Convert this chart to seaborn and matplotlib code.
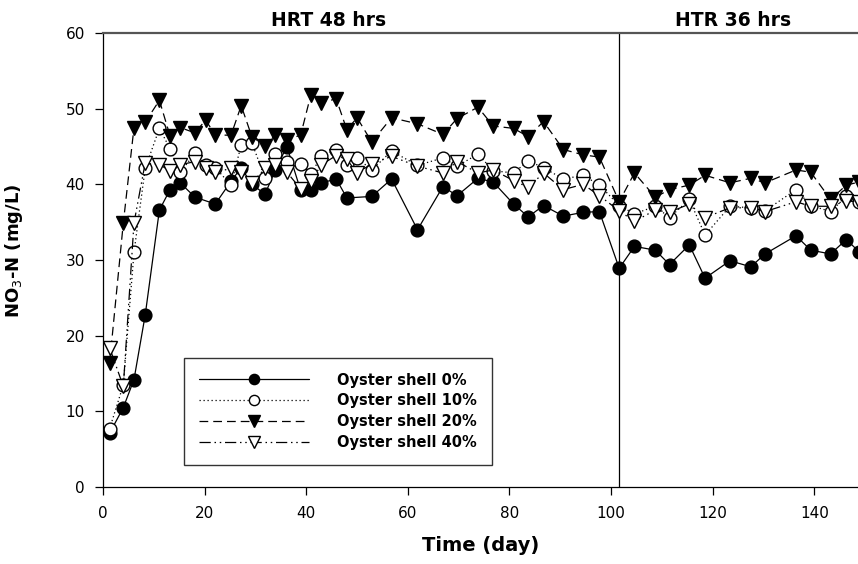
import numpy as np
import pandas as pd
import matplotlib
matplotlib.use("Agg")
import matplotlib.pyplot as plt
import seaborn as sns

# ---- data ----
days = [1.3, 4.0, 6.1, 8.3, 11.1, 13.2, 15.2, 18.1, 20.2, 22.1, 25.2, 27.2, 29.3, 31.9,
        33.9, 36.2, 38.9, 40.9, 43.0, 45.9, 48.0, 50.0, 52.9, 56.8, 61.9, 66.9, 69.7,
        73.8, 76.8, 80.8, 83.7, 86.7, 90.6, 94.5, 97.7, 101.6, 104.6, 108.7, 111.5,
        115.4, 118.5, 123.4, 127.5, 130.3, 136.4, 139.3, 143.2, 146.3, 148.8]

shell_0 = [7.1, 10.5, 14.2, 22.7, 36.6, 39.3, 40.2, 38.3, np.nan, 37.4, 40.4, 42.2, 40.0, 38.7,
           41.9, 45.0, 39.2, 39.2, 40.2, 40.7, 38.2, np.nan, 38.4, 40.7, 34.0, 39.7, 38.5,
           40.8, 40.3, 37.4, 35.7, 37.2, 35.8, 36.3, 36.4, 28.9, 31.8, 31.3, 29.4,
           32.0, 27.6, 29.9, 29.1, 30.8, 33.2, 31.3, 30.8, 32.7, 31.1]

shell_10 = [7.7, 13.5, 31.0, 42.1, 47.4, 44.7, 41.6, 44.1, 42.6, 42.2, 39.9, 45.2, 45.5, 40.8,
            44.0, 42.9, 42.7, 41.4, 43.7, 44.6, 42.6, 43.5, 41.9, 44.4, 42.5, 43.5, 42.4,
            44.0, 41.8, 41.5, 43.1, 42.2, 40.7, 41.2, 39.9, 37.2, 36.1, 37.1, 35.6,
            38.0, 33.3, 37.1, 36.9, 36.5, 39.3, 37.2, 36.4, 38.4, 37.7]

shell_20 = [16.4, 34.9, 47.5, 48.2, 51.1, 46.4, 47.5, 46.8, 48.5, 46.5, 46.5, 50.4, 46.3, 45.1,
            46.5, 45.9, 46.5, 51.8, 50.8, 51.3, 47.2, 48.8, 45.6, 48.8, 48.0, 46.6, 48.7,
            50.2, 47.7, 47.4, 46.3, 48.3, 44.6, 43.9, 43.6, 37.7, 41.5, 38.3, 39.3,
            39.9, 41.2, 40.2, 40.8, 40.2, 41.9, 41.6, 38.0, 39.9, 40.3]

shell_40 = [18.4, 13.3, 34.9, 42.8, 42.6, 41.8, 42.6, 43.0, 42.2, 41.6, 42.1, 41.6, 40.2, 42.1,
            42.5, 41.6, 39.4, 40.4, 42.6, 43.8, 43.3, 41.5, 42.7, 43.7, 42.4, 41.5, 43.0,
            41.5, 41.9, 40.5, 39.6, 41.5, 39.3, 40.0, 38.5, 36.5, 35.1, 36.6, 36.3,
            37.4, 35.6, 36.9, 36.9, 36.4, 37.7, 37.1, 37.1, 37.8, 37.7]

series_labels = ["Oyster shell 0%", "Oyster shell 10%", "Oyster shell 20%", "Oyster shell 40%"]
phase_labels = ["HRT 48 hrs", "HTR 36 hrs"]
phase_change_day = 101.6
x_ticks = [0, 20, 40, 60, 80, 100, 120, 140]
y_ticks = [0, 10, 20, 30, 40, 50, 60]

# ---- style ----
sns.set_style("ticks")
plt.rcParams["font.family"] = ["DejaVu Sans"]
plt.rcParams["mathtext.fontset"] = "dejavusans"
plt.rcParams["text.color"] = "black"
plt.rcParams["axes.labelcolor"] = "black"
plt.rcParams["xtick.color"] = "black"
plt.rcParams["ytick.color"] = "black"

fig = plt.figure(figsize=(8.58, 5.64), dpi=100)
ax = fig.add_axes([103 / 858, 77 / 564, 755 / 858, 454 / 564])

styles = [
    dict(marker="o", linestyle="-", markerfacecolor="black", markersize=9.2),
    dict(marker="o", linestyle=(0, (1, 2.2)), markerfacecolor="white", markersize=9.2),
    dict(marker="v", linestyle=(0, (7, 4)), markerfacecolor="black", markersize=10),
    dict(marker="v", linestyle=(0, (9, 3, 1.2, 3, 1.2, 3)), markerfacecolor="white", markersize=10),
]
all_series = [shell_0, shell_10, shell_20, shell_40]

for vals, lab, st in zip(all_series, series_labels, styles):
    df = pd.DataFrame({"day": days, "val": vals}).dropna()
    sns.lineplot(data=df, x="day", y="val", ax=ax, color="black", linewidth=0.9,
                 markeredgecolor="black", markeredgewidth=1.0, label=lab,
                 sort=False, estimator=None, errorbar=None, clip_on=True, **st)

ax.axvline(phase_change_day, color="black", linewidth=0.9, zorder=1)

ax.set_xlim(0, 148.6)
ax.set_ylim(0, 60)
ax.set_xticks(x_ticks)
ax.set_yticks(y_ticks)
ax.tick_params(axis="both", direction="out", length=6, width=0.9, colors="black",
               labelcolor="black", labelsize=11)
ax.tick_params(axis="x", pad=8)
ax.tick_params(axis="y", pad=7)

ax.spines["right"].set_visible(False)
ax.spines["left"].set_color("black")
ax.spines["bottom"].set_color("black")
ax.spines["left"].set_linewidth(0.9)
ax.spines["bottom"].set_linewidth(0.9)
ax.spines["top"].set_color("#555555")
ax.spines["top"].set_linewidth(1.6)

ax.set_xlabel("Time (day)", fontsize=14, fontweight="bold", color="black")
ax.set_ylabel("NO$_3$-N (mg/L)", fontsize=13, fontweight="bold", color="black")
ax.xaxis.set_label_coords(0.5, -0.108)
ax.yaxis.set_label_coords(-0.103, 0.52)

fig.text(329 / 858, 1 - 21 / 564, phase_labels[0], ha="center", va="center",
         fontsize=13.5, fontweight="bold", color="black")
fig.text(733 / 858, 1 - 20 / 564, phase_labels[1], ha="center", va="center",
         fontsize=13.5, fontweight="bold", color="black")

leg = ax.legend(loc="upper left", bbox_to_anchor=(81 / 755, 129 / 454), borderaxespad=0,
                prop=dict(weight="bold", size=10.5), frameon=True, fancybox=False,
                edgecolor="#333333", handlelength=7.6, handletextpad=1.9,
                labelspacing=0.4, borderpad=1.0, markerscale=0.8, numpoints=1)
leg.get_frame().set_linewidth(1.0)
leg.get_frame().set_alpha(1)
for t in leg.get_texts():
    t.set_color("black")

fig.savefig("out.png", dpi=100)
